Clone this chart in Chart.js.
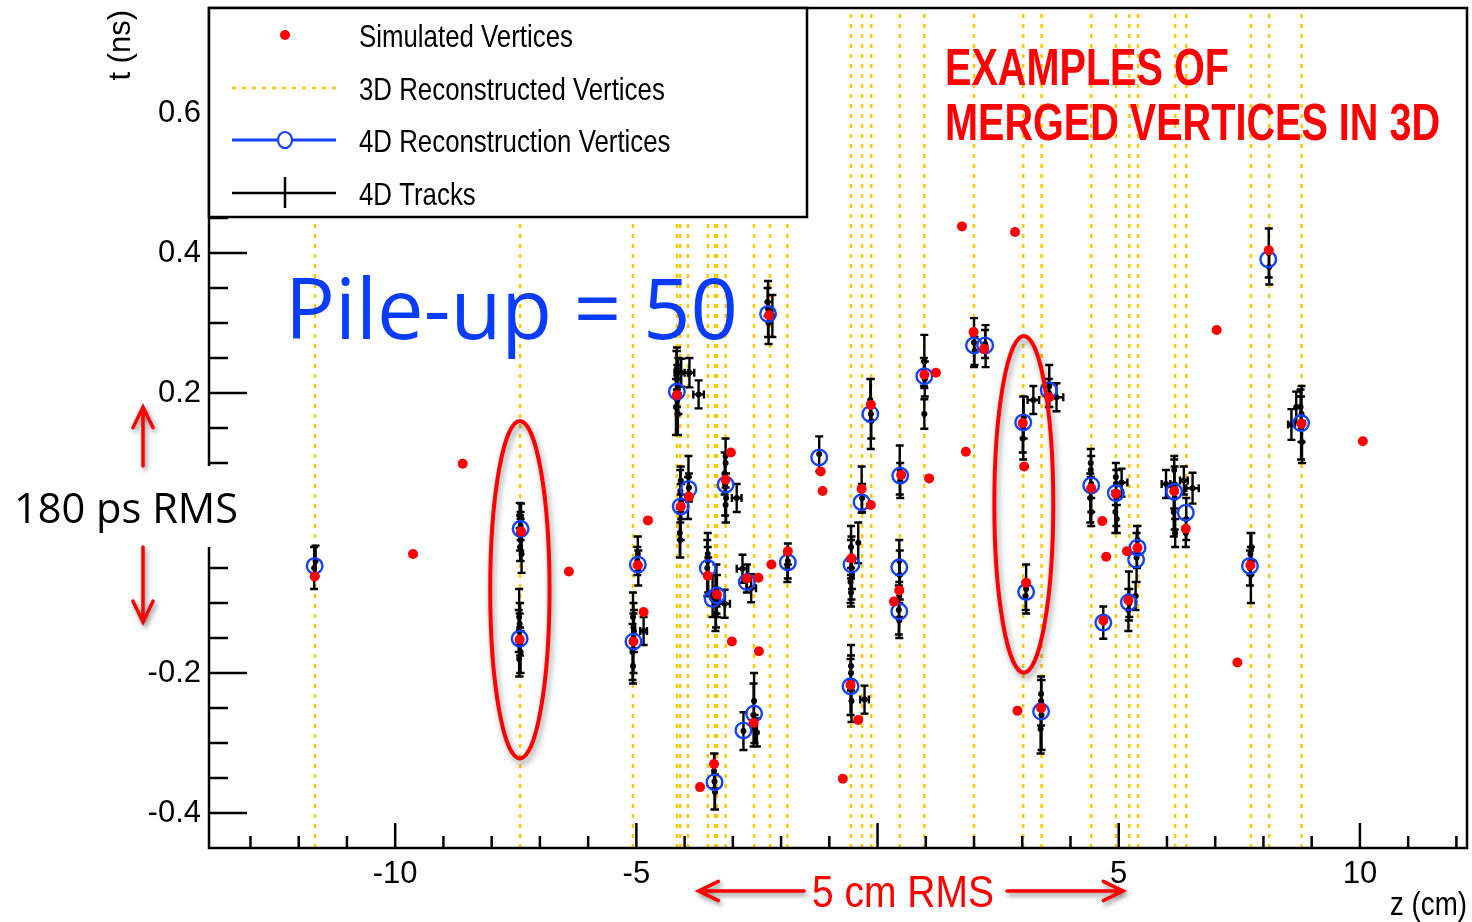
<!DOCTYPE html>
<html>
<head>
<meta charset="utf-8">
<title>Vertices at pile-up 50</title>
<script src="https://cdn.jsdelivr.net/npm/chart.js"></script>
<style>
  html, body { margin: 0; padding: 0; background: #fff; }
  canvas { display: block; }
</style>
</head>
<body>
<canvas id="chartVertices" width="1472" height="922"></canvas>
<script>
// legend names, in the order they are listed
const seriesNames = ['Simulated Vertices', '3D Reconstructed Vertices', '4D Reconstruction Vertices', '4D Tracks'];

// axis ranges and labelled ticks
const zRange = [-13.86, 12.22];
const tRange = [-0.45, 0.75];
const zTicks = [-10, -5, 0, 5, 10];
const tTicks = [-0.4, -0.2, 0, 0.2, 0.4, 0.6];

// 3D reconstructed vertices, z (cm)
const vertices3D = [-11.66, -7.41, -5.07, -4.16, -4.09, -3.93, -3.52, -3.37, -3.33, -3.15,
  -2.56, -2.23, -1.87, -0.55, -0.32, -0.13, 0.46, 0.97, 2.00, 3.02,
  3.40, 4.43, 4.94, 5.22, 5.40, 6.17, 6.40, 7.74, 8.12, 8.79];

// simulated vertices [z (cm), t (ns)]
const simulated = [
  [-11.67, -0.062], [-9.63, -0.030], [-8.60, 0.099], [-7.39, 0.002], [-7.42, -0.152], [-6.40, -0.055],
  [-4.76, 0.018], [-4.97, -0.046], [-4.85, -0.113], [-5.06, -0.155],
  [-4.16, 0.197], [-4.08, 0.038], [-3.91, 0.052], [-3.04, 0.115], [-3.15, 0.076],
  [-3.52, -0.061], [-3.33, -0.088], [-3.02, -0.155], [-2.71, -0.065], [-2.47, -0.064], [-2.46, -0.169],
  [-2.20, -0.045], [-1.86, -0.026], [-1.18, 0.088], [-1.14, 0.060], [-0.33, 0.063], [-0.14, 0.040],
  [-0.14, 0.183], [-0.54, -0.036], [0.34, -0.098], [0.45, -0.082], [0.49, 0.083],
  [-2.57, -0.271], [-3.39, -0.330], [-3.68, -0.363], [-0.56, -0.217], [-0.40, -0.267], [-0.72, -0.351],
  [-2.25, 0.311], [1.75, 0.438], [2.85, 0.430], [1.99, 0.287], [2.21, 0.263], [0.97, 0.226], [1.21, 0.229],
  [3.01, 0.157], [3.56, 0.194], [1.83, 0.116], [3.04, 0.095], [1.07, 0.078],
  [3.08, -0.071], [2.90, -0.254], [3.39, -0.250],
  [4.43, 0.064], [4.66, 0.017], [4.94, 0.056], [4.74, -0.034], [5.17, -0.026], [5.39, -0.021],
  [5.20, -0.096], [4.68, -0.125], [6.15, 0.060], [6.39, 0.006], [7.03, 0.290], [8.11, 0.404],
  [8.79, 0.156], [10.06, 0.131], [7.73, -0.046], [7.46, -0.185]
];

// 4D reconstructed vertices [z (cm), t (ns)]
const vertices4D = [
  [-11.67, -0.047], [-7.40, 0.006], [-7.42, -0.151], [-4.97, -0.045], [-5.06, -0.155],
  [-4.16, 0.202], [-4.08, 0.038], [-3.92, 0.063], [-3.15, 0.069], [-3.52, -0.050], [-3.42, -0.094],
  [-3.33, -0.089], [-2.71, -0.070], [-1.86, -0.042], [-1.21, 0.108], [-0.33, 0.044], [-0.54, -0.045],
  [-0.15, 0.170], [0.47, 0.082], [0.45, -0.049], [0.45, -0.112], [0.97, 0.224], [2.00, 0.268],
  [2.23, 0.268], [3.02, 0.158], [3.55, 0.204], [3.08, -0.084], [3.39, -0.255], [4.43, 0.068],
  [4.94, 0.057], [5.39, -0.021], [5.36, -0.038], [5.21, -0.099], [4.68, -0.128], [6.15, 0.059],
  [6.39, 0.029], [7.72, -0.047], [8.10, 0.391], [8.78, 0.157], [-0.56, -0.219], [-2.78, -0.282],
  [-2.56, -0.258], [-3.38, -0.356], [-2.27, 0.313]
];

// 4D tracks [z (cm), t (ns), sigma t (ns), sigma z (cm)]
const tracks = [
  [-11.68, -0.050, 0.030, 0], [-11.65, -0.040, 0.022, 0],
  [-7.39, 0.020, 0.022, 0], [-7.41, 0.000, 0.025, 0], [-7.40, -0.010, 0.030, 0], [-7.42, 0.025, 0.018, 0],
  [-7.38, -0.030, 0.027, 0], [-7.40, 0.010, 0.020, 0], [-7.41, -0.020, 0.020, 0],
  [-7.43, -0.120, 0.040, 0], [-7.41, -0.150, 0.050, 0], [-7.42, -0.160, 0.045, 0], [-7.44, -0.140, 0.030, 0],
  [-7.40, -0.170, 0.030, 0], [-7.42, -0.130, 0.030, 0], [-7.43, -0.180, 0.025, 0], [-7.41, -0.155, 0.020, 0],
  [-4.97, -0.030, 0.025, 0], [-4.96, -0.050, 0.025, 0], [-4.98, -0.040, 0.020, 0],
  [-5.07, -0.120, 0.035, 0], [-5.06, -0.150, 0.050, 0], [-5.08, -0.170, 0.040, 0], [-5.05, -0.140, 0.030, 0],
  [-5.07, -0.190, 0.025, 0], [-5.06, -0.135, 0.020, 0], [-4.85, -0.140, 0.020, 0.07],
  [-4.16, 0.220, 0.040, 0], [-4.15, 0.190, 0.050, 0], [-4.17, 0.200, 0.060, 0], [-4.14, 0.170, 0.030, 0],
  [-4.16, 0.235, 0.030, 0], [-4.13, 0.210, 0.040, 0], [-4.18, 0.180, 0.040, 0],
  [-3.90, 0.229, 0.021, 0.10], [-3.71, 0.198, 0.020, 0.11], [-4.07, 0.229, 0.020, 0.14],
  [-4.09, 0.060, 0.030, 0], [-4.08, 0.030, 0.040, 0], [-4.10, 0.000, 0.035, 0], [-4.07, 0.045, 0.025, 0],
  [-4.09, -0.010, 0.025, 0], [-4.08, 0.075, 0.020, 0],
  [-3.92, 0.080, 0.030, 0], [-3.93, 0.050, 0.030, 0], [-3.91, 0.065, 0.020, 0],
  [-3.15, 0.100, 0.035, 0], [-3.16, 0.070, 0.045, 0], [-3.14, 0.050, 0.035, 0], [-3.15, 0.040, 0.025, 0],
  [-3.17, 0.085, 0.030, 0], [-3.15, 0.110, 0.025, 0], [-2.92, 0.050, 0.020, 0.10],
  [-3.52, -0.030, 0.030, 0], [-3.53, -0.050, 0.040, 0], [-3.51, -0.060, 0.025, 0], [-3.52, -0.040, 0.020, 0],
  [-3.34, -0.080, 0.035, 0], [-3.36, -0.100, 0.040, 0], [-3.33, -0.090, 0.030, 0], [-3.35, -0.115, 0.020, 0],
  [-3.42, -0.090, 0.030, 0], [-3.17, -0.101, 0.020, 0.11],
  [-2.71, -0.065, 0.020, 0], [-2.80, -0.051, 0.020, 0.12], [-2.62, -0.079, 0.020, 0.10],
  [-1.86, -0.040, 0.025, 0], [-1.87, -0.050, 0.020, 0], [-1.86, -0.030, 0.015, 0],
  [-1.21, 0.113, 0.025, 0],
  [-0.33, 0.062, 0.033, 0], [-0.32, 0.050, 0.020, 0],
  [-0.55, -0.020, 0.030, 0], [-0.54, -0.050, 0.045, 0], [-0.56, -0.070, 0.030, 0], [-0.55, -0.035, 0.025, 0],
  [-0.53, -0.060, 0.020, 0], [-0.55, -0.085, 0.020, 0], [-0.40, -0.014, 0.029, 0],
  [-0.55, -0.190, 0.030, 0], [-0.56, -0.220, 0.040, 0], [-0.54, -0.240, 0.030, 0], [-0.55, -0.200, 0.025, 0],
  [-0.27, -0.238, 0.020, 0.09],
  [-0.14, 0.170, 0.050, 0], [-0.15, 0.190, 0.030, 0], [-0.13, 0.160, 0.025, 0],
  [0.46, 0.090, 0.035, 0], [0.47, 0.075, 0.025, 0],
  [0.45, -0.040, 0.030, 0], [0.46, -0.060, 0.035, 0], [0.45, -0.090, 0.030, 0], [0.44, -0.110, 0.035, 0],
  [0.45, -0.125, 0.025, 0],
  [0.97, 0.245, 0.038, 0], [0.98, 0.220, 0.025, 0], [0.97, 0.170, 0.021, 0], [0.96, 0.230, 0.020, 0],
  [2.00, 0.272, 0.035, 0], [2.01, 0.260, 0.020, 0], [2.24, 0.267, 0.030, 0], [2.23, 0.270, 0.020, 0],
  [3.02, 0.150, 0.045, 0], [3.03, 0.165, 0.030, 0], [3.01, 0.135, 0.020, 0], [3.23, 0.190, 0.020, 0.12],
  [3.56, 0.210, 0.030, 0], [3.55, 0.200, 0.020, 0], [3.71, 0.194, 0.020, 0.14],
  [3.08, -0.080, 0.035, 0], [3.07, -0.090, 0.020, 0],
  [3.39, -0.240, 0.035, 0], [3.40, -0.260, 0.050, 0], [3.38, -0.280, 0.035, 0], [3.39, -0.230, 0.020, 0],
  [4.42, 0.090, 0.030, 0], [4.43, 0.070, 0.040, 0], [4.41, 0.050, 0.035, 0], [4.43, 0.030, 0.020, 0],
  [4.42, 0.100, 0.020, 0],
  [4.94, 0.070, 0.030, 0], [4.95, 0.050, 0.040, 0], [4.93, 0.030, 0.030, 0], [4.94, 0.080, 0.020, 0],
  [4.96, 0.020, 0.020, 0], [5.06, 0.072, 0.020, 0.12],
  [5.38, -0.020, 0.030, 0], [5.37, -0.035, 0.035, 0], [5.39, -0.010, 0.020, 0],
  [5.21, -0.090, 0.035, 0], [5.20, -0.110, 0.030, 0], [5.22, -0.100, 0.020, 0], [5.35, -0.090, 0.020, 0],
  [4.68, -0.128, 0.023, 0],
  [6.15, 0.070, 0.035, 0], [6.16, 0.050, 0.045, 0], [6.14, 0.030, 0.035, 0], [6.15, 0.090, 0.020, 0],
  [6.17, 0.000, 0.020, 0], [5.98, 0.070, 0.020, 0.09], [6.53, 0.064, 0.022, 0.13], [6.35, 0.075, 0.020, 0.08],
  [6.40, 0.020, 0.030, 0], [6.39, 0.000, 0.020, 0],
  [7.73, -0.030, 0.030, 0], [7.74, -0.060, 0.040, 0], [7.72, -0.050, 0.025, 0], [7.75, -0.020, 0.020, 0],
  [8.11, 0.400, 0.035, 0], [8.12, 0.380, 0.025, 0],
  [8.79, 0.170, 0.040, 0], [8.78, 0.150, 0.045, 0], [8.80, 0.130, 0.030, 0], [8.77, 0.180, 0.025, 0],
  [8.58, 0.155, 0.022, 0.07], [8.68, 0.180, 0.022, 0],
  [-2.27, 0.320, 0.040, 0], [-2.26, 0.300, 0.030, 0], [-2.28, 0.330, 0.020, 0], [-2.18, 0.310, 0.030, 0],
  [-2.56, -0.240, 0.040, 0], [-2.57, -0.260, 0.045, 0], [-2.55, -0.280, 0.020, 0], [-2.78, -0.283, 0.027, 0],
  [-2.50, -0.285, 0.020, 0],
  [-3.38, -0.355, 0.040, 0], [-3.39, -0.340, 0.025, 0], [-3.37, -0.370, 0.025, 0]
];

const RED = '#ff0000';
const BLUE = '#1440ff';
const GOLD = '#ffc800';
const SANS = '"Liberation Sans", Arial, sans-serif';
const NARROW = '"Liberation Sans Narrow", "Liberation Sans", Arial, sans-serif';
const ROUND = '"Open Sans", "Noto Sans", sans-serif';

// every 3D vertex becomes one vertical segment, null breaks the path between them
const vertexLines = [];
vertices3D.forEach(z => {
  vertexLines.push({ x: z, y: tRange[0] }, { x: z, y: tRange[1] }, { x: z, y: null });
});

// text squeezed horizontally, either by a factor or to a given width
function putText(ctx, str, x, y, font, color, opt) {
  opt = opt || {};
  ctx.save();
  ctx.font = font;
  ctx.fillStyle = color;
  ctx.textBaseline = 'alphabetic';
  const w = ctx.measureText(str).width;
  const sx = opt.width ? opt.width / w : (opt.squeeze || 1);
  ctx.translate(x, y);
  ctx.scale(sx, 1);
  ctx.textAlign = opt.align || 'left';
  ctx.fillText(str, 0, 0);
  ctx.restore();
}

function chevronArrow(ctx, x0, y0, x1, y1, head) {
  const ang = Math.atan2(y1 - y0, x1 - x0);
  ctx.beginPath();
  ctx.moveTo(x0, y0);
  ctx.lineTo(x1, y1);
  ctx.moveTo(x1 - head * Math.cos(ang - 0.45), y1 - head * Math.sin(ang - 0.45));
  ctx.lineTo(x1, y1);
  ctx.lineTo(x1 - head * Math.cos(ang + 0.45), y1 - head * Math.sin(ang + 0.45));
  ctx.stroke();
}

// error bars of the tracks, drawn just before their markers
const errorBars = {
  id: 'errorBars',
  beforeDatasetDraw(chart, args) {
    const ds = chart.data.datasets[args.index];
    if (!ds.withErrors) return;
    const { ctx, chartArea: a, scales: { x, y } } = chart;
    const cap = 4;
    ctx.save();
    ctx.beginPath();
    ctx.rect(a.left, a.top, a.right - a.left, a.bottom - a.top);
    ctx.clip();
    ctx.strokeStyle = '#000';
    ctx.lineWidth = 2.4;
    ctx.beginPath();
    ds.data.forEach(p => {
      const px = x.getPixelForValue(p.x);
      const py = y.getPixelForValue(p.y);
      const top = y.getPixelForValue(p.y + p.dt);
      const bot = y.getPixelForValue(p.y - p.dt);
      ctx.moveTo(px, top); ctx.lineTo(px, bot);
      ctx.moveTo(px - cap, top); ctx.lineTo(px + cap, top);
      ctx.moveTo(px - cap, bot); ctx.lineTo(px + cap, bot);
      if (p.dz) {
        const l = x.getPixelForValue(p.x - p.dz);
        const r = x.getPixelForValue(p.x + p.dz);
        ctx.moveTo(l, py); ctx.lineTo(r, py);
        ctx.moveTo(l, py - cap); ctx.lineTo(l, py + cap);
        ctx.moveTo(r, py - cap); ctx.lineTo(r, py + cap);
      }
    });
    ctx.stroke();
    ctx.restore();
  }
};

// closed frame with inward ticks
const frameTicks = {
  id: 'frameTicks',
  afterDatasetsDraw(chart) {
    const { ctx, chartArea: a, scales: { x, y } } = chart;
    ctx.save();
    ctx.strokeStyle = '#000';
    ctx.lineWidth = 2.5;
    ctx.strokeRect(a.left, a.top, a.right - a.left, a.bottom - a.top);
    ctx.beginPath();
    for (let v = Math.ceil(zRange[0]); v <= Math.floor(zRange[1]); v++) {
      const px = x.getPixelForValue(v);
      ctx.moveTo(px, a.bottom);
      ctx.lineTo(px, a.bottom - (v % 5 === 0 ? 25 : 12));
    }
    for (let k = -8; k <= 14; k++) {
      const py = y.getPixelForValue(k * 0.05);
      ctx.moveTo(a.left, py);
      ctx.lineTo(a.left + (k % 4 === 0 ? 38 : 19), py);
    }
    ctx.stroke();
    ctx.restore();
  }
};

// legend box, annotations and axis titles
const overlay = {
  id: 'overlay',
  afterDraw(chart) {
    const { ctx, chartArea: a, scales: { x, y } } = chart;

    // legend
    const box = { l: a.left, t: a.top, r: 807, b: 217 };
    const rowY = [35, 88, 140, 193];
    const symX = 285, lineL = 232, lineR = 336, textX = 359;
    ctx.save();
    ctx.fillStyle = '#fff';
    ctx.fillRect(box.l, box.t, box.r - box.l, box.b - box.t);
    ctx.strokeStyle = '#000';
    ctx.lineWidth = 2.5;
    ctx.strokeRect(box.l, box.t, box.r - box.l, box.b - box.t);

    ctx.fillStyle = RED;
    ctx.beginPath(); ctx.arc(symX, rowY[0], 5, 0, Math.PI * 2); ctx.fill();

    ctx.strokeStyle = GOLD; ctx.lineWidth = 2.5; ctx.setLineDash([4, 6]);
    ctx.beginPath(); ctx.moveTo(lineL, rowY[1]); ctx.lineTo(lineR, rowY[1]); ctx.stroke();
    ctx.setLineDash([]);

    ctx.strokeStyle = BLUE; ctx.lineWidth = 3;
    ctx.beginPath(); ctx.moveTo(lineL, rowY[2]); ctx.lineTo(symX - 7.5, rowY[2]);
    ctx.moveTo(symX + 7.5, rowY[2]); ctx.lineTo(lineR, rowY[2]); ctx.stroke();
    ctx.lineWidth = 2.2;
    ctx.beginPath(); ctx.ellipse(symX, rowY[2], 7, 8, 0, 0, Math.PI * 2); ctx.stroke();

    ctx.strokeStyle = '#000'; ctx.lineWidth = 2.5;
    ctx.beginPath(); ctx.moveTo(lineL, rowY[3]); ctx.lineTo(lineR, rowY[3]);
    ctx.moveTo(symX, rowY[3] - 16); ctx.lineTo(symX, rowY[3] + 15); ctx.stroke();
    ctx.restore();
    seriesNames.forEach((name, i) => {
      putText(ctx, name, textX, rowY[i] + 12, '31.5px ' + SANS, '#000', { squeeze: 0.82 });
    });

    // headline texts
    putText(ctx, 'Pile-up = 50', 285, 339, '85px ' + ROUND, '#0a3cff', { width: 453 });
    putText(ctx, 'EXAMPLES OF', 945, 85, 'bold 52px ' + SANS, RED, { width: 284 });
    putText(ctx, 'MERGED VERTICES IN 3D', 945, 140, 'bold 52px ' + SANS, RED, { width: 495 });

    // rings round the vertices merged in 3D
    const merged = [
      { z: -7.415, t: -0.081, hz: 0.615, ht: 0.241 },
      { z: 3.032, t: 0.041, hz: 0.611, ht: 0.2405 }
    ];
    ctx.save();
    ctx.strokeStyle = RED;
    ctx.lineWidth = 4;
    ctx.shadowColor = 'rgba(0,0,0,0.4)';
    ctx.shadowBlur = 6;
    ctx.shadowOffsetX = 2;
    ctx.shadowOffsetY = 4;
    merged.forEach(m => {
      const cx = x.getPixelForValue(m.z), cy = y.getPixelForValue(m.t);
      const rx = x.getPixelForValue(m.z + m.hz) - cx;
      const ry = cy - y.getPixelForValue(m.t + m.ht);
      ctx.beginPath();
      ctx.ellipse(cx, cy, rx, ry, 0, 0, Math.PI * 2);
      ctx.stroke();
    });
    ctx.restore();

    // 180 ps spread along t
    ctx.save();
    ctx.fillStyle = '#fff';
    ctx.fillRect(0, 466, 252, 81);
    ctx.strokeStyle = RED;
    ctx.lineWidth = 3.5;
    ctx.lineCap = 'round';
    ctx.shadowColor = 'rgba(0,0,0,0.45)';
    ctx.shadowBlur = 5;
    ctx.shadowOffsetX = 2;
    ctx.shadowOffsetY = 3;
    chevronArrow(ctx, 143, 466, 143, y.getPixelForValue(0.18), 23);
    chevronArrow(ctx, 143, 547, 143, y.getPixelForValue(-0.127), 23);
    ctx.restore();
    putText(ctx, '180 ps RMS', 14, 523, '42px ' + ROUND, '#000', { width: 224 });

    // 5 cm spread along z
    ctx.save();
    ctx.fillStyle = '#fff';
    ctx.fillRect(806, 858, 198, 64);
    ctx.strokeStyle = RED;
    ctx.lineWidth = 3.5;
    ctx.lineCap = 'round';
    ctx.shadowColor = 'rgba(0,0,0,0.45)';
    ctx.shadowBlur = 5;
    ctx.shadowOffsetX = 2;
    ctx.shadowOffsetY = 3;
    chevronArrow(ctx, 804, 891, x.getPixelForValue(-3.71), 891, 22);
    chevronArrow(ctx, 1007, 891, x.getPixelForValue(5.09), 891, 22);
    ctx.restore();
    putText(ctx, '5 cm RMS', 812, 907, '45px ' + SANS, RED, { width: 182 });

    // axis titles
    putText(ctx, 'z (cm)', a.right, 915, '33px ' + SANS, '#000', { width: 77, align: 'right' });
    ctx.save();
    ctx.translate(130, 10);
    ctx.rotate(-Math.PI / 2);
    ctx.font = '31px ' + SANS;
    ctx.fillStyle = '#000';
    ctx.textAlign = 'right';
    ctx.textBaseline = 'alphabetic';
    ctx.fillText('t (ns)', 0, 0);
    ctx.restore();
  }
};

const ctxVertices = document.getElementById('chartVertices');

new Chart(ctxVertices, {
  type: 'scatter',
  data: {
    datasets: [
      {
        label: seriesNames[0],
        data: simulated.map(([z, t]) => ({ x: z, y: t })),
        pointRadius: 5,
        pointBackgroundColor: RED,
        pointBorderWidth: 0,
        order: 1
      },
      {
        label: seriesNames[2],
        data: vertices4D.map(([z, t]) => ({ x: z, y: t })),
        pointRadius: 7.8,
        pointBackgroundColor: 'rgba(0,0,0,0)',
        pointBorderColor: BLUE,
        pointBorderWidth: 2.4,
        order: 2
      },
      {
        label: seriesNames[3],
        data: tracks.map(([z, t, dt, dz]) => ({ x: z, y: t, dt: dt, dz: dz })),
        pointRadius: 3,
        pointBackgroundColor: '#000',
        pointBorderWidth: 0,
        withErrors: true,
        order: 3
      },
      {
        label: seriesNames[1],
        data: vertexLines,
        showLine: true,
        spanGaps: false,
        borderColor: GOLD,
        borderWidth: 2.5,
        borderDash: [4, 6],
        pointRadius: 0,
        order: 4
      }
    ]
  },
  options: {
    responsive: false,
    devicePixelRatio: 1,
    animation: false,
    events: [],
    layout: { autoPadding: false, padding: { top: 8, right: 5, bottom: 0, left: 0 } },
    plugins: {
      legend: { display: false },
      tooltip: { enabled: false }
    },
    scales: {
      x: {
        type: 'linear',
        min: zRange[0],
        max: zRange[1],
        grid: { display: false, drawTicks: false, tickLength: 0 },
        border: { display: false },
        afterBuildTicks: scale => { scale.ticks = zTicks.map(v => ({ value: v })); },
        afterFit: scale => {
          scale.height = 74;
          scale.paddingLeft = 0; scale.paddingRight = 0;
        },
        ticks: {
          autoSkip: false,
          maxRotation: 0,
          padding: 8,
          color: '#000',
          font: { family: NARROW, size: 31 },
          callback: v => String(v)
        }
      },
      y: {
        type: 'linear',
        min: tRange[0],
        max: tRange[1],
        grid: { display: false, drawTicks: false, tickLength: 0 },
        border: { display: false },
        afterBuildTicks: scale => { scale.ticks = tTicks.map(v => ({ value: v })); },
        afterFit: scale => {
          scale.width = 209;
          scale.paddingTop = 0; scale.paddingBottom = 0;
        },
        ticks: {
          autoSkip: false,
          padding: 8,
          color: '#000',
          font: { family: NARROW, size: 31 },
          callback: v => (v === 0 ? '0' : v.toFixed(1))
        }
      }
    }
  },
  plugins: [errorBars, frameTicks, overlay]
});
</script>
</body>
</html>
